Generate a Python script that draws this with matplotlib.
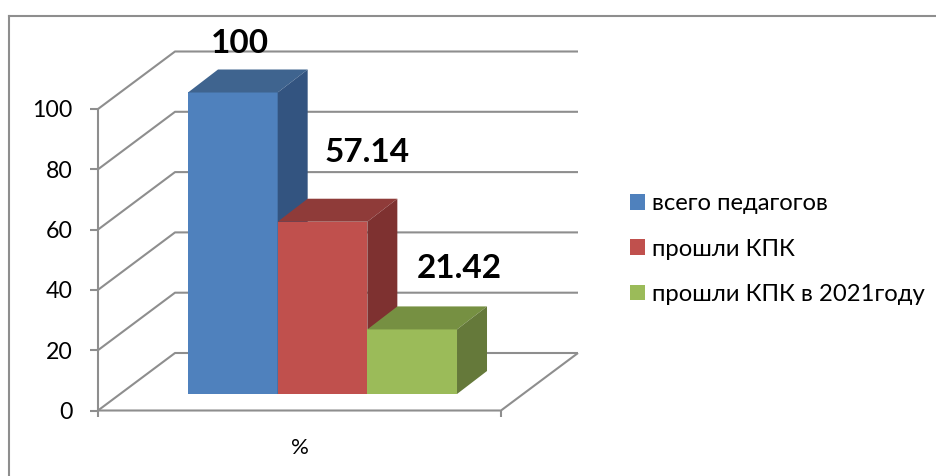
#!/usr/bin/env python3
"""Fake 3D column chart drawn on a flat axes"""

import matplotlib
matplotlib.use("Agg")
import matplotlib.pyplot as plt
from matplotlib.lines import Line2D
from matplotlib.patches import Patch, Polygon

SERIES = ["всего педагогов", "прошли КПК", "прошли КПК в 2021году"]
VALUES = [100, 57.14, 21.42]
VALUE_LABELS = ["100", "57.14", "21.42"]
Y_TICKS = [0, 20, 40, 60, 80, 100]
CATEGORY = "%"

FRONT = ["#4F81BD", "#C0504D", "#9BBB59"]
TOP = ["#3F648F", "#8F3B39", "#769042"]
SIDE = ["#335480", "#7E3130", "#65793A"]
GRID = "#8E8E8E"

W, H = 936, 476
PX_X = 89.67  # pixels per bar width
PX_Y = 3.015  # pixels per percent
ORIGIN_X, ORIGIN_Y = 188, 410.5

WALL_LEFT, WALL_RIGHT = (98 - ORIGIN_X) / PX_X, (501 - ORIGIN_X) / PX_X
WALL_DX, WALL_DY = 77 / PX_X, 57.5 / PX_Y
BAR_DX, BAR_DY = 30 / PX_X, 23 / PX_Y
BAR_FLOOR = (410.5 - 394) / PX_Y
LABEL_OFFSETS = [(-8, 26), (30, 46), (32, 38)]  # pixels from the back of the bar top

plt.rcParams["font.family"] = ["Lato", "Noto Sans", "DejaVu Sans"]

fig = plt.figure(figsize=(W / 100, H / 100), dpi=100)
ax = fig.add_axes([0, 0, 1, 1])
ax.set_xlim(-ORIGIN_X / PX_X, (W - ORIGIN_X) / PX_X)
ax.set_ylim((ORIGIN_Y - H) / PX_Y, ORIGIN_Y / PX_Y)
ax.axis("off")

# outer chart frame, runs off the right and bottom of the picture
fig.add_artist(Line2D([9 / W, 9 / W], [0, 1 - 16 / H], color=GRID, lw=1.5))
fig.add_artist(Line2D([9 / W, 1], [1 - 16 / H, 1 - 16 / H], color=GRID, lw=1.5))

line = dict(color=GRID, lw=1.5, solid_capstyle="butt", zorder=1)
for tick in Y_TICKS:
    ax.plot(
        [WALL_LEFT, WALL_LEFT + WALL_DX, WALL_RIGHT + WALL_DX],
        [tick, tick + WALL_DY, tick + WALL_DY],
        **line,
    )
    ax.plot([WALL_LEFT - 8 / PX_X, WALL_LEFT], [tick, tick], **line)
    ax.text(WALL_LEFT - 25 / PX_X, tick, str(tick), ha="right", va="center_baseline", fontsize=16.7)

# axis lines and floor edge
ax.plot([WALL_LEFT, WALL_LEFT], [0, Y_TICKS[-1]], **line)
ax.plot([WALL_LEFT, WALL_RIGHT, WALL_RIGHT + WALL_DX], [0, 0, WALL_DY], **line)
for x in (WALL_LEFT, WALL_RIGHT):
    ax.plot([x, x], [0, -6 / PX_Y], **line)
ax.text((WALL_LEFT + WALL_RIGHT) / 2, -37 / PX_Y, CATEGORY, ha="center", va="center", fontsize=16)

for i, value in enumerate(VALUES):
    low, high = BAR_FLOOR, BAR_FLOOR + value
    ax.add_patch(Polygon([(i, low), (i + 1, low), (i + 1, high), (i, high)], color=FRONT[i], lw=0, zorder=2))
    ax.add_patch(Polygon(
        [(i, high), (i + 1, high), (i + 1 + BAR_DX, high + BAR_DY), (i + BAR_DX, high + BAR_DY)],
        color=TOP[i], lw=0, zorder=2,
    ))
    ax.add_patch(Polygon(
        [(i + 1, low), (i + 1 + BAR_DX, low + BAR_DY), (i + 1 + BAR_DX, high + BAR_DY), (i + 1, high)],
        color=SIDE[i], lw=0, zorder=2,
    ))
    dx, dy = LABEL_OFFSETS[i]
    ax.annotate(
        VALUE_LABELS[i],
        (i + 0.5 + BAR_DX / 2, high + BAR_DY),
        xytext=(dx * 0.72, dy * 0.72),
        textcoords="offset points",
        ha="center",
        va="center",
        fontsize=24,
        fontweight="bold",
        color="black",
        zorder=3,
    )

handles = [Patch(facecolor=c, edgecolor="none") for c in FRONT]
ax.legend(
    handles,
    SERIES,
    loc="center left",
    bbox_to_anchor=(630 / W, 1 - 249 / H),
    frameon=False,
    fontsize=17.2,
    handlelength=0.63,
    handleheight=0.63,
    handletextpad=0.29,
    labelspacing=1.02,
    borderpad=0,
    borderaxespad=0,
)

fig.savefig("out.png", dpi=100)
